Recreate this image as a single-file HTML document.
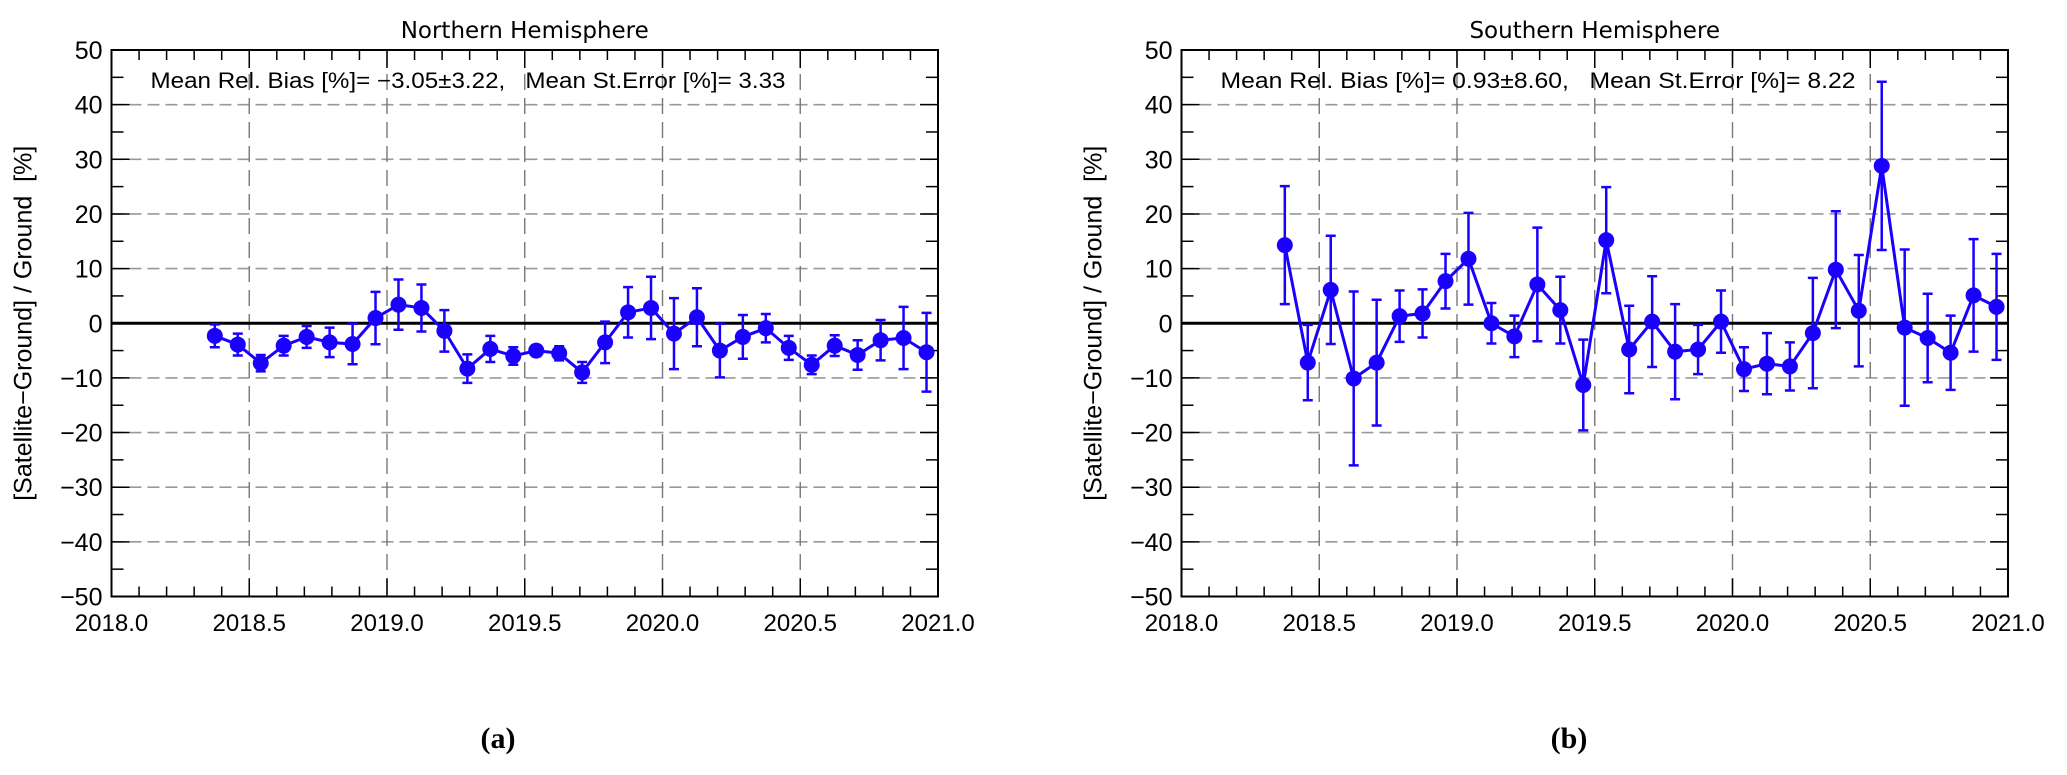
<!DOCTYPE html>
<html><head><meta charset="utf-8"><style>
html,body{margin:0;padding:0;background:#fff;}
svg{display:block;font-family:"Liberation Sans",sans-serif;}
</style></head><body>
<svg id="fig" width="2067" height="775" viewBox="0 0 2067 775" xmlns="http://www.w3.org/2000/svg"></svg>
<script>
const months = Array.from({length:32},(_,i)=>i); // May 2018 .. Dec 2020 index
const northVals = [-2.3,-3.9,-7.3,-4.1,-2.5,-3.5,-3.8,0.95,3.4,2.8,-1.4,-8.3,-4.7,-6.0,-5.0,-5.5,-9.0,-3.5,2.0,2.8,-1.9,1.1,-5.0,-2.5,-0.9,-4.5,-7.6,-4.1,-5.8,-3.1,-2.7,-5.3];
const northErr = [2.1,2.0,1.5,1.8,2.0,2.7,3.7,4.8,4.6,4.3,3.8,2.6,2.4,1.6,1.0,1.3,1.9,3.8,4.6,5.7,6.5,5.3,4.9,4.0,2.6,2.2,1.7,1.9,2.7,3.7,5.7,7.2];
const southVals = [14.3,-7.2,6.1,-10.1,-7.2,1.3,1.8,7.7,11.8,0.0,-2.4,7.1,2.4,-11.3,15.2,-4.8,0.3,-5.2,-4.8,0.3,-8.4,-7.4,-7.9,-1.8,9.8,2.3,28.8,-0.8,-2.7,-5.4,5.1,3.0];
const southErr = [10.8,6.9,9.9,15.9,11.5,4.7,4.4,5.0,8.4,3.7,3.8,10.4,6.1,8.3,9.7,8.0,8.3,8.7,4.5,5.7,4.0,5.6,4.4,10.1,10.7,10.2,15.4,14.3,8.1,6.8,10.3,9.7];
const xTicks = ["2018.0","2018.5","2019.0","2019.5","2020.0","2020.5","2021.0"];
const yTicks = [50,40,30,20,10,0,-10,-20,-30,-40,-50];

const NS="http://www.w3.org/2000/svg";
const svg=document.getElementById('fig');
function el(tag,attrs,parent){const e=document.createElementNS(NS,tag);for(const k in attrs)e.setAttribute(k,attrs[k]);(parent||svg).appendChild(e);return e;}

function panel(left,right,title,stats,vals,errs,caption,capX,key){
  const top=50,bottom=596.5;
  const g=el('g',{});
  
  
  const xs=v=>left+(v-2018)/3*(right-left);
  const ys=v=>top+(50-v)/100*(bottom-top);
  for(const t of yTicks){ if(t===50||t===-50||t===0) continue;
    const l=el('line',{x1:left,x2:right,y1:ys(t),y2:ys(t),stroke:'#999','stroke-width':1.6,'stroke-dasharray':'12,6'},g);
    
    
  }
  for(let i=1;i<6;i++){
    const x=xs(2018+i*0.5);
    const l=el('line',{x1:x,x2:x,y1:top,y2:bottom,stroke:'#777','stroke-width':1.4,'stroke-dasharray':'16,8'},g);
    
    
  }
  for(let v=-50;v<=50;v+=5){
    const len=(v%10===0)?18:12;
    el('line',{x1:left,x2:left+len,y1:ys(v),y2:ys(v),stroke:'#000','stroke-width':1.5},g);
    el('line',{x1:right,x2:right-len,y1:ys(v),y2:ys(v),stroke:'#000','stroke-width':1.5},g);
  }
  for(let i=0;i<=30;i++){
    const x=xs(2018+i*0.1);const len=(i%5===0)?18:10;
    el('line',{x1:x,x2:x,y1:top,y2:top+len,stroke:'#000','stroke-width':1.5},g);
    el('line',{x1:x,x2:x,y1:bottom,y2:bottom-len,stroke:'#000','stroke-width':1.5},g);
  }
  const z=el('line',{x1:left,x2:right,y1:ys(0),y2:ys(0),stroke:'#000','stroke-width':3},g);
  
  
  const f=el('rect',{x:left,y:top,width:right-left,height:bottom-top,fill:'none',stroke:'#000','stroke-width':2},g);
  
  
  for(const t of yTicks){
    const tx=el('text',{x:left-9,y:ys(t)+9,'font-size':25,'text-anchor':'end',fill:'#000'},g);
    tx.textContent=(t<0?'\u2212'+(-t):String(t));
    
    
  }
  xTicks.forEach((s,i)=>{
    const tx=el('text',{x:xs(2018+i*0.5),y:631,'font-size':24,'text-anchor':'middle',fill:'#000'},g);
    tx.textContent=s;
    
    
  });
  const yt=el('text',{x:0,y:0,'font-size':25,'text-anchor':'middle',transform:`translate(${left-80},${ys(0)}) rotate(-90)`},g);
  yt.textContent='[Satellite\u2212Ground] / Ground\u00a0\u00a0[%]';
  
  
  const tt=el('text',{x:(left+right)/2,y:38,'font-size':23,'text-anchor':'middle',fill:'#000','font-family':'DejaVu Sans, sans-serif'},g);
  tt.textContent=title;
  
  
  const st=el('text',{x:left+39,y:88,'font-size':22,fill:'#000',textLength:635,lengthAdjust:'spacingAndGlyphs'},g);
  st.textContent=stats;
  
  
  const xm=i=>xs(2018+(i+4.5)/12);
  const pts=months.map(i=>xm(i)+','+ys(vals[i])).join(' ');
  const pl=el('polyline',{points:pts,fill:'none',stroke:'#1a00ff','stroke-width':3},g);
  
  
  months.forEach(i=>{
    const x=xm(i),y1=ys(vals[i]+errs[i]),y2=ys(vals[i]-errs[i]);
    const eb=el('path',{d:`M${x},${y1}V${y2}M${x-5},${y1}H${x+5}M${x-5},${y2}H${x+5}`,stroke:'#1a00ff','stroke-width':2.5,fill:'none'},g);
    
    
    const c=el('circle',{cx:x,cy:ys(vals[i]),r:8,fill:'#1a00ff'},g);
    
    
  });
  const cp=el('text',{x:capX,y:748,'font-size':30,'font-weight':'bold','text-anchor':'middle','font-family':'Liberation Serif, serif'},g);
  cp.textContent=caption;
  
  
}
panel(111.5,938,'Northern Hemisphere','Mean Rel. Bias [%]= \u22123.05\u00b13.22,\u00a0\u00a0\u00a0Mean St.Error [%]= 3.33',northVals,northErr,'(a)',498,'north');
panel(1181.5,2008,'Southern Hemisphere','Mean Rel. Bias [%]= 0.93\u00b18.60,\u00a0\u00a0\u00a0Mean St.Error [%]= 8.22',southVals,southErr,'(b)',1569,'south');
</script>
</body></html>
